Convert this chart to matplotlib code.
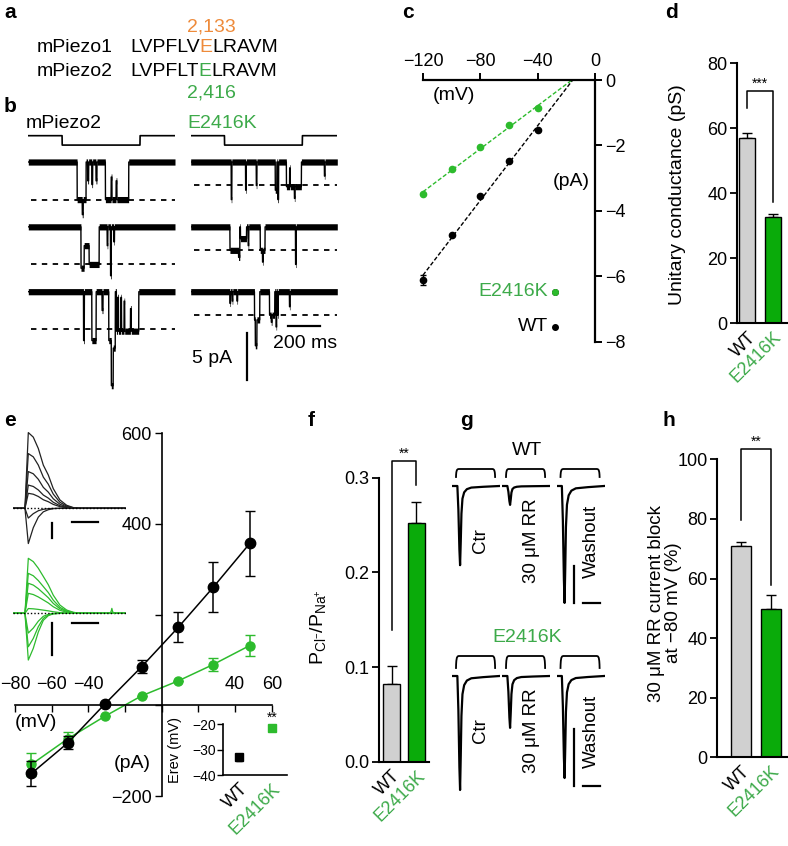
import matplotlib

matplotlib.use("Agg")
import matplotlib.pyplot as plt  # noqa: E402
import numpy as np  # noqa: E402

plt.rcParams["font.family"] = ["Liberation Sans", "DejaVu Sans"]
plt.rcParams["font.size"] = 13
plt.rcParams["axes.linewidth"] = 1.2
plt.rcParams["mathtext.fontset"] = "custom"
plt.rcParams["mathtext.rm"] = "Liberation Sans"
plt.rcParams["mathtext.it"] = "Liberation Sans"

W, H = 788, 846
GREEN_TXT = "#3daa4a"
GREEN = "#2dbb2d"
BAR_GREEN = "#0aab0a"
GRAY = "#d0d0d0"
ORANGE = "#ee8b3b"

# ---- panel a: sequence alignment
seq1 = [("LVPFLV", "k"), ("E", ORANGE), ("LRAVM", "k")]
seq2 = [("LVPFLT", "k"), ("E", GREEN_TXT), ("LRAVM", "k")]
res1, res2 = "2,133", "2,416"

# ---- panel b: single-channel events (start ms, end ms, open level)
b_unit = {"wt": 4.0, "mut": 2.5}  # unitary amplitude, pA
stim_on, stim_off, sweep_len = 212, 700, 919
wt_sweeps = [
    [(306, 362, 1.0), (338, 344, 0.4), (372, 378, 0.5), (398, 403, 0.6), (424, 430, 0.5),
     (483, 629, 1.0), (519, 524, -0.6), (550, 555, -0.5)],
    [(330, 350, 1.1), (350, 381, 0.5), (381, 444, 1.0), (494, 498, 0.5), (515, 520, 1.3),
     (536, 540, 0.4)],
    [(346, 351, 1.3), (398, 425, 1.3), (462, 468, 0.5), (504, 520, 1.3), (520, 532, 2.5),
     (532, 545, 1.5), (552, 692, 1.05), (560, 565, -0.9), (580, 584, -0.9), (600, 604, -0.8),
     (640, 645, -0.6)],
]
mut_sweeps = [
    [(254, 258, 1.6), (344, 348, 1.2), (411, 415, 1.0), (530, 540, 1.2), (546, 551, 1.6),
     (600, 694, 1.05), (650, 654, 0.5), (620, 624, -0.8), (838, 842, 0.6)],
    [(246, 300, 1.0), (300, 308, 1.3), (312, 350, 0.5), (360, 364, 0.8), (436, 466, 1.0),
     (450, 454, 0.5), (657, 661, 1.6)],
    [(246, 250, 0.5), (260, 264, 0.4), (290, 294, 0.4), (400, 433, 1.2), (405, 415, 1.1),
     (494, 527, 1.0), (505, 510, 0.3), (535, 539, 1.5), (545, 549, 1.0), (619, 623, 0.64)],
]

# ---- panel c: unitary I-V
c_v = [-120, -100, -80, -60, -40]
c_wt = [-6.11, -4.74, -3.56, -2.47, -1.53]
c_wt_err = [0.15, 0, 0, 0, 0]
c_mut = [-3.50, -2.71, -2.04, -1.39, -0.87]

# ---- panel d: unitary conductance
groups = ["WT", "E2416K"]
d_vals, d_err = [57.1, 32.6], [1.4, 1.0]

# ---- panel e: macroscopic I-V
e_v = [-71, -51, -31, -11, 9, 28, 48]
e_wt = [-150, -82, 3, 85, 172, 260, 357]
e_wt_err = [27, 14, 0, 14, 33, 55, 72]
e_mut = [-130, -73, -24, 21, 54, 90, 132]
e_mut_err = [25, 15, 0, 0, 0, 15, 24]
erev_vals, erev_err = [-33.1, -21.7], [1.3, 0.8]
# example current traces (normalised waveforms)
tr_t = [0, 21.6, 27.8, 37, 46.3, 55.6, 64.8, 74, 86.4, 98.8, 111, 123.5, 207]
tr_wt_pos = [0, 0, 1.0, 0.94, 0.79, 0.57, 0.44, 0.26, 0.11, 0.04, 0.01, 0, 0]
tr_wt_neg = [0, 0, 1.0, 0.55, 0.25, 0.1, 0.04, 0.01, 0, 0, 0, 0, 0]
tr_mut_pos = [0, 0, 1.0, 0.94, 0.82, 0.67, 0.52, 0.33, 0.15, 0.06, 0.02, 0, 0]
tr_mut_neg = [0, 0, 1.0, 0.75, 0.4, 0.15, 0.05, 0.01, 0, 0, 0, 0, 0]
wt_amps = [1010, 730, 490, 310, 200, -130, -470]
mut_amps = [344, 250, 188, 125, 30, -123, -209, -292]

# ---- panel f: permeability ratio
f_vals, f_err = [0.082, 0.2524], [0.019, 0.022]

# ---- panel g: RR block traces (peak current, nA)
g_conds = ["Ctr", "30 μM RR", "Washout"]
g_wt_peaks = [2.14, 0.51, 3.16]
g_mut_peaks = [2.0, 0.91, 1.79]
g_t = [-10, 4, 7, 10, 12, 14, 16, 19, 24, 32, 45, 80, 128]
g_norm = [0, 0, -0.3, -0.8, -1, -0.7, -0.35, -0.16, -0.08, -0.04, -0.02, -0.01, 0]
stim_t = [0, 0.3, 1, 2.5, 5, 8, 107, 110, 112.5, 114, 114.7, 115]
stim_y = [0, 0.3, 0.6, 0.85, 0.97, 1, 1, 0.97, 0.85, 0.6, 0.3, 0]

# ---- panel h: RR block
h_vals, h_err = [70.9, 49.8], [1.4, 4.7]

fig = plt.figure(figsize=(W / 100, H / 100), dpi=100)


def box(x0, y0, x1, y1):
    ax = fig.add_axes([x0 / W, 1 - y1 / H, (x1 - x0) / W, (y1 - y0) / H])
    ax.patch.set_visible(False)
    return ax


def ftext(x, y, s, **kw):
    kw.setdefault("ha", "left")
    kw.setdefault("va", "center")
    return fig.text(x / W, 1 - y / H, s, **kw)


def bare(ax):
    for s in ax.spines.values():
        s.set_visible(False)
    ax.set_xticks([])
    ax.set_yticks([])


def letter(x, y, s):
    ftext(x, y, s, fontsize=15, fontweight="bold")


def color_groups(ax):
    for lab, col in zip(ax.get_xticklabels(), ["k", GREEN_TXT]):
        lab.set_color(col)


def bar_panel(rect, xlim, ylim, vals, errs, width, yticks, ylabels, top, bracket, stars):
    ax = box(*rect)
    ax.set_xlim(*xlim)
    ax.set_ylim(*ylim)
    ax.bar([0, 1], vals, width=width, color=[GRAY, BAR_GREEN], edgecolor="k", lw=1.0, zorder=2)
    ax.errorbar([0, 1], vals, yerr=[[0, 0], errs], fmt="none", ecolor="k", elinewidth=1,
                capsize=3.5, capthick=1, zorder=1)
    for s in ("top", "right"):
        ax.spines[s].set_visible(False)
    ax.spines["left"].set_bounds(0, top)
    ax.spines["left"].set_linewidth(1.5)
    ax.spines["bottom"].set_linewidth(1.5)
    ax.set_yticks(yticks)
    ax.set_yticklabels(ylabels)
    ax.tick_params(axis="y", length=5, width=1.3, labelsize=13, pad=2)
    ax.set_xticks([0, 1])
    ax.set_xticklabels(groups, rotation=45, ha="right", va="top", rotation_mode="anchor",
                       fontsize=13)
    ax.tick_params(axis="x", length=0, pad=4)
    color_groups(ax)
    ytop, yl, yr = bracket
    ax.plot([0, 0, 1, 1], [yl, ytop, ytop, yr], color="k", lw=1.1, clip_on=False)
    ax.text(0.5, ytop, stars, ha="center", va="bottom", fontsize=10, clip_on=False)
    return ax


# ================= panel a
letter(4, 12, "a")
letter(4, 106, "b")


def seq_line(x, y, parts):
    r = fig.canvas.get_renderer()
    for s, c in parts:
        t = ftext(x, y, s, color=c, fontsize=14)
        x += t.get_window_extent(renderer=r).width


ftext(37, 48, "mPiezo1", fontsize=14)
ftext(37, 72, "mPiezo2", fontsize=14)
seq_line(130, 48, seq1)
seq_line(130, 72, seq2)
ftext(187, 27, res1, color=ORANGE, fontsize=14)
ftext(187, 93, res2, color=GREEN_TXT, fontsize=14)

# ================= panel b
ftext(26, 123, "mPiezo2", fontsize=14)
ftext(187, 123, "E2416K", color=GREEN_TXT, fontsize=14)
t = np.arange(0, sweep_len + 0.5, 0.5)
row_step = 6.9
for key, sweeps, x0, x1 in (("wt", wt_sweeps, 28.3, 175), ("mut", mut_sweeps, 190.7, 337.3)):
    ax = box(x0, 112, x1, 390)
    ax.set_xlim(0, sweep_len)
    ax.set_ylim(-24.26, 5.32)
    bare(ax)
    unit = b_unit[key]
    stim = np.where((t >= stim_on) & (t < stim_off), 1.8, 2.8)
    ax.plot(t, stim, color="k", lw=1.2)
    for i, ev in enumerate(sweeps):
        base = -i * row_step
        cur = np.full_like(t, base)
        for a, b, lev in ev:
            cur[(t >= a) & (t < b)] -= lev * unit
        ax.plot(t, cur, color="k", lw=1.0)
        ax.fill_between(t, cur - 0.33, cur + 0.33, color="k", lw=0)
        ax.plot([20, sweep_len], [base - unit] * 2, color="k", lw=1.3, ls=(0, (3, 3)))
    if key == "mut":
        ax.plot([608, 808], [-17.45, -17.45], color="k", lw=1.6)
        ax.plot([352, 352], [-18.2, -23.2], color="k", lw=1.6)
        ax.text(716, -19.3, "200 ms", ha="center", va="center", fontsize=14)
        ax.text(262, -20.9, "5 pA", ha="right", va="center", fontsize=14)

# ================= panel c
letter(402, 12, "c")
ax = box(415.8, 70.2, 602.2, 348.2)
ax.set_xlim(-125, 5)
ax.set_ylim(-8.2, 0.3)
for s in ("left", "bottom"):
    ax.spines[s].set_visible(False)
ax.spines["top"].set_position(("data", 0))
ax.spines["right"].set_position(("data", 0))
ax.spines["top"].set_bounds(-120, 0)
ax.spines["right"].set_bounds(-8, 0)
for s in ("top", "right"):
    ax.spines[s].set_linewidth(1.6)
ax.xaxis.set_ticks_position("top")
ax.yaxis.set_ticks_position("right")
ax.set_xticks([-120, -80, -40, 0])
ax.set_yticks([0, -2, -4, -6, -8])
ax.tick_params(direction="out", length=5, width=1.4, labelsize=13, pad=2)
for vals, col in ((c_wt, "k"), (c_mut, GREEN)):
    slope, icpt = np.polyfit(c_v, vals, 1)
    xr = -icpt / slope
    ax.plot([-120, xr], [slope * -120 + icpt, 0], color=col, lw=1.0, ls=(0, (3, 1.5)))
    ax.plot(c_v, vals, "o", color=col, ms=4.5, zorder=3)
ax.errorbar(c_v, c_wt, yerr=c_wt_err, fmt="none", ecolor="k", capsize=2.5, lw=1)
ax.text(-113, -0.2, "(mV)", ha="left", va="top", fontsize=14)
ax.text(-4, -3.1, "(pA)", ha="right", va="center", fontsize=14)
ax.text(-33, -6.48, "E2416K", color=GREEN_TXT, ha="right", va="center", fontsize=14)
ax.text(-33, -7.55, "WT", color="k", ha="right", va="center", fontsize=14)
ax.plot([-28, -28], [-6.48, -7.55], "o", ms=4, color="k")
ax.plot([-28], [-6.48], "o", ms=4, color=GREEN)

# ================= panel d
letter(665, 12, "d")
bar_panel((737, 56.8, 787, 323.3), (-0.385, 1.54), (0, 82), d_vals, d_err, 0.63,
          [0, 20, 40, 60, 80], ["0", "20", "40", "60", "80"], 80, (71.6, 66.2, 37.4), "***")
ftext(677, 195, "Unitary conductance (pS)", rotation=90, ha="center", fontsize=14)

# ================= panel e
letter(4, 420, "e")
ax = box(10, 425, 285, 800)
ax.set_xlim(-82.7, 67.2)
ax.set_ylim(-208.5, 618)
for s in ("right", "bottom"):
    ax.spines[s].set_visible(False)
ax.spines["top"].set_position(("data", 0))
ax.spines["left"].set_position(("data", 0))
ax.spines["top"].set_bounds(-80, 60)
ax.spines["left"].set_bounds(-200, 600)
ax.xaxis.set_ticks_position("top")
ax.set_xticks(range(-80, 61, 20))
ax.set_xticklabels(["−80", "−60", "−40", "", "", "", "40", "60"])
ax.tick_params(axis="x", direction="in", length=5, width=1, labelsize=13, pad=9)
ax.set_yticks([600, 400, 200, 0, -200])
ax.set_yticklabels(["600", "400", "", "", "−200"])
ax.tick_params(axis="y", direction="out", length=5, width=1, labelsize=13, pad=2)
ax.errorbar(e_v, e_wt, yerr=e_wt_err, color="k", lw=1.1, marker="o", ms=7.5, capsize=3.5,
            elinewidth=1.1, zorder=3)
ax.errorbar(e_v, e_mut, yerr=e_mut_err, color=GREEN, lw=1.1, marker="o", ms=6.5, capsize=3.5,
            elinewidth=1.1, zorder=2)
ax.text(-80, -37, "(mV)", ha="left", va="center", fontsize=14)
ax.text(-6, -128, "(pA)", ha="right", va="center", fontsize=14)

# e insets: example currents
for amps, pos, neg, col, y0, y1, ylim, bars in (
    (wt_amps, tr_wt_pos, tr_wt_neg, "#222222", 425, 550, (-556, 1111),
     ((72, -200, -400), (108, 157, -179))),
    (mut_amps, tr_mut_pos, tr_mut_neg, GREEN, 550, 665, (-323, 396),
     ((72, -60, -260), (108, 157, -59))),
):
    ia = box(13.3, y0, 126, y1)
    ia.set_xlim(0, 208.7)
    ia.set_ylim(*ylim)
    bare(ia)
    for a in amps:
        shape = pos if a > 0 else neg
        ia.plot(tr_t, np.array(shape) * a, color=col, lw=0.9)
    ia.plot([0, 208.7], [0, 0], color="k", lw=1, ls=(0, (1, 1.5)))
    (vx, va_, vb), (hx0, hx1, hy) = bars
    ia.plot([vx, vx], [va_, vb], color="k", lw=1.6)
    ia.plot([hx0, hx1], [hy, hy], color="k", lw=1.6)
    if col == GREEN:
        ia.plot([178, 181, 182.5, 184, 187], [0, 10, 31, 10, 0], color=GREEN, lw=0.9)

# e inset: reversal potential
ia = box(222.7, 718.9, 286.8, 775)
ia.set_xlim(-0.5, 1.46)
ia.set_ylim(-40, -18)
for s in ("top", "right"):
    ia.spines[s].set_visible(False)
ia.spines["left"].set_bounds(-40, -20)
ia.set_yticks([-20, -30, -40])
ia.tick_params(axis="y", length=4, width=1, labelsize=10, pad=1)
ia.set_xticks([0, 1])
ia.set_xticklabels(groups, rotation=45, ha="right", va="top", rotation_mode="anchor", fontsize=13)
ia.tick_params(axis="x", length=0, pad=4)
color_groups(ia)
ia.errorbar([0], erev_vals[:1], yerr=erev_err[:1], fmt="s", color="k", ms=6, capsize=2.5,
            clip_on=False)
ia.errorbar([1], erev_vals[1:], yerr=erev_err[1:], fmt="s", color=GREEN, ms=6, capsize=2.5,
            clip_on=False)
ia.text(1, -20.2, "**", ha="center", va="bottom", fontsize=10)
ftext(175, 750, "Erev (mV)", rotation=90, ha="center", fontsize=10.5)

# ================= panel f
letter(308, 420, "f")
bar_panel((379.3, 449.3, 429.3, 761.7), (-0.506, 1.535), (0, 0.33), f_vals, f_err, 0.69,
          [0, 0.1, 0.2, 0.3], ["0.0", "0.1", "0.2", "0.3"], 0.3, (0.3175, 0.139, 0.292), "**")
ftext(318, 627, r"P$_{\mathregular{Cl^{-}}}$/P$_{\mathregular{Na^{+}}}$", rotation=90,
      ha="center", fontsize=14)

# ================= panel g
letter(460, 420, "g")
ftext(527, 450, "WT", ha="center", fontsize=14)
ftext(527, 638, "E2416K", ha="center", color=GREEN_TXT, fontsize=14)
px_ms = 0.34
col_x0 = [456, 506, 560.5]
rows = (
    (g_wt_peaks, 486, 37, 469, 477, 541, -3.16),
    (g_mut_peaks, 676, 57, 656, 668, 731, -1.93),
)
for peaks, base_px, ppn, st_top, st_bot, lab_y, bar_y in rows:
    for j, (x0, pk) in enumerate(zip(col_x0, peaks)):
        ga = box(x0 - 4, base_px - 25, x0 + 44, base_px + 125)
        ga.set_xlim(-4 / px_ms, 44 / px_ms)
        ga.set_ylim(-125 / ppn, 25 / ppn)
        bare(ga)
        lo = (base_px - st_bot) / ppn
        hi = (base_px - st_top) / ppn
        ga.plot(stim_t, lo + np.array(stim_y) * (hi - lo), color="k", lw=1.3)
        ga.plot(g_t, np.array(g_norm) * pk, color="k", lw=1.6)
        if j == 2:
            ga.plot([39.7, 39.7], [bar_y, bar_y + 1], color="k", lw=1.6, clip_on=False)
            ga.plot([66, 116], [bar_y, bar_y], color="k", lw=1.6, clip_on=False)
    for x0, lab, dx in zip(col_x0, g_conds, (24, 26, 31)):
        ftext(x0 + dx, lab_y, lab, rotation=90, ha="center", fontsize=13.5)

# ================= panel h
letter(662, 420, "h")
bar_panel((717.3, 435.5, 786.7, 757.3), (-0.80, 1.527), (0, 108), h_vals, h_err, 0.65,
          [0, 20, 40, 60, 80, 100], ["0", "20", "40", "60", "80", "100"], 100,
          (103.4, 79.6, 57.8), "**")
ftext(665, 603, "30 μM RR current block\nat −80 mV (%)", rotation=90, ha="center",
      fontsize=13.5, linespacing=1.0, multialignment="center")

fig.savefig("out.png", dpi=100)
